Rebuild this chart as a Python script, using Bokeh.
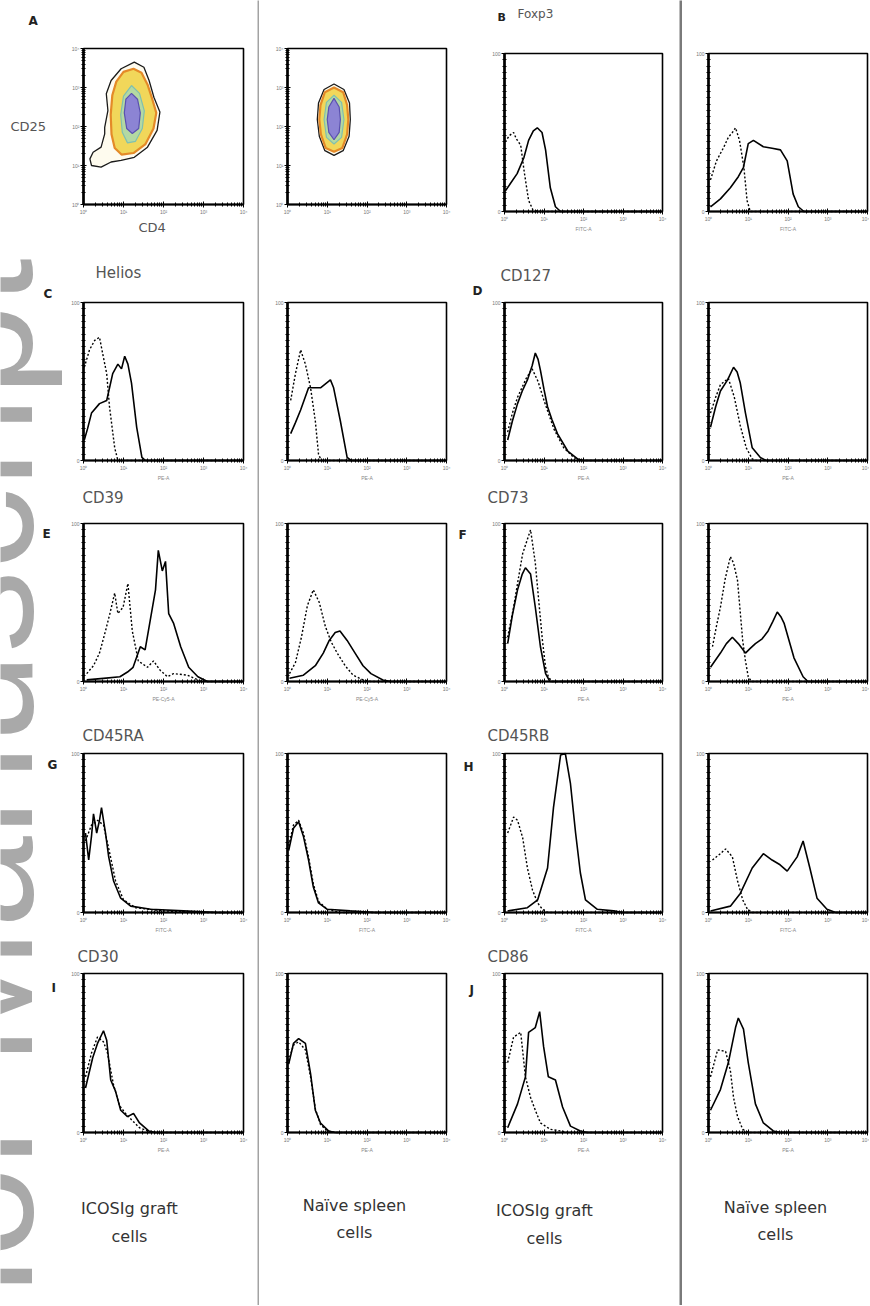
from bokeh.plotting import figure
from bokeh.layouts import row, column
from bokeh.models import Label, FixedTicker, LogAxis, LinearAxis, BoxAnnotation
from bokeh.embed import file_html
from bokeh.resources import INLINE

# ======================= DATA =======================
# Histograms: x = log10 fluorescence (decade exponent, 0..4), y = % of max
decade_ticks = [1, 10, 100, 1000, 10000]
decade_labels = ["10⁰", "10¹", "10²", "10³", "10⁴"]
hist_y_ticks = [0, 100]
group_line1 = ["ICOSIg graft", "Naïve spleen", "ICOSIg graft", "Naïve spleen"]
group_line2 = ["cells", "cells", "cells", "cells"]
marker_names = ["Foxp3", "Helios", "CD127", "CD39", "CD73", "CD45RA", "CD45RB", "CD30", "CD86"]
channel_names = ["FITC-A", "PE-A", "PE-A", "PE-Cy5-A", "PE-A", "FITC-A", "FITC-A", "PE-A", "PE-A"]

foxp3_graft = [(0.02, 13), (0.32, 24), (0.49, 34), (0.61, 45), (0.73, 51), (0.83, 53), (0.95, 50), (1.04, 39), (1.16, 15), (1.29, 3), (1.42, 0), (4.0, 0)]
foxp3_graft_iso = [(0.02, 44), (0.12, 48), (0.23, 50), (0.30, 46), (0.41, 42), (0.50, 25), (0.61, 7), (0.72, 1), (0.85, 0), (4.0, 0)]
foxp3_naive = [(0.05, 3), (0.30, 8), (0.55, 15), (0.75, 22), (0.88, 28), (1.00, 43), (1.13, 45), (1.38, 41), (1.60, 40), (1.81, 39), (1.98, 32), (2.13, 11), (2.26, 3), (2.40, 0), (4.0, 0)]
foxp3_naive_iso = [(0.05, 20), (0.20, 32), (0.39, 41), (0.50, 47), (0.60, 50), (0.68, 53), (0.78, 45), (0.89, 28), (0.97, 7), (1.05, 0), (4.0, 0)]

helios_graft = [(0.02, 13), (0.10, 20), (0.20, 30), (0.40, 36), (0.58, 38), (0.73, 55), (0.86, 61), (0.95, 58), (1.03, 66), (1.11, 61), (1.20, 49), (1.33, 21), (1.46, 2), (1.55, 0), (4.0, 0)]
helios_graft_iso = [(0.02, 59), (0.15, 70), (0.28, 76), (0.40, 78), (0.50, 65), (0.58, 55), (0.65, 34), (0.72, 20), (0.78, 8), (0.86, 0), (4.0, 0)]
helios_naive = [(0.08, 17), (0.20, 24), (0.33, 32), (0.53, 46), (0.83, 46), (1.08, 51), (1.16, 46), (1.33, 25), (1.50, 2), (1.60, 0), (4.0, 0)]
helios_naive_iso = [(0.08, 38), (0.20, 55), (0.33, 70), (0.45, 61), (0.58, 46), (0.70, 25), (0.78, 4), (0.85, 0), (4.0, 0)]

cd127_graft = [(0.08, 13), (0.20, 25), (0.33, 36), (0.45, 44), (0.58, 51), (0.70, 60), (0.78, 68), (0.85, 64), (0.91, 57), (1.00, 45), (1.09, 34), (1.20, 26), (1.34, 17), (1.60, 6), (1.85, 1), (2.00, 0), (4.0, 0)]
cd127_graft_iso = [(0.08, 18), (0.20, 30), (0.33, 40), (0.55, 52), (0.70, 58), (0.85, 50), (1.00, 38), (1.25, 20), (1.50, 8), (1.75, 2), (1.95, 0), (4.0, 0)]
cd127_naive = [(0.05, 21), (0.18, 34), (0.30, 44), (0.48, 51), (0.63, 59), (0.72, 56), (0.80, 49), (0.93, 30), (1.10, 8), (1.30, 2), (1.45, 0), (4.0, 0)]
cd127_naive_iso = [(0.05, 30), (0.18, 40), (0.30, 48), (0.50, 52), (0.65, 40), (0.80, 22), (0.95, 8), (1.10, 1), (1.20, 0), (4.0, 0)]

cd39_graft = [(0.08, 1), (0.50, 2), (0.91, 3), (1.10, 6), (1.24, 9), (1.42, 22), (1.54, 20), (1.67, 39), (1.80, 58), (1.87, 83), (1.97, 70), (2.05, 76), (2.13, 43), (2.25, 37), (2.43, 22), (2.63, 9), (2.86, 3), (3.10, 0), (4.0, 0)]
cd39_graft_iso = [(0.08, 5), (0.25, 10), (0.40, 18), (0.55, 32), (0.66, 43), (0.78, 56), (0.86, 43), (0.99, 47), (1.11, 62), (1.22, 32), (1.37, 13), (1.60, 9), (1.75, 13), (1.92, 7), (2.10, 3), (2.25, 5), (2.60, 4), (2.86, 1), (3.00, 0), (4.0, 0)]
cd39_naive = [(0.05, 2), (0.40, 4), (0.70, 10), (0.90, 18), (1.05, 26), (1.20, 31), (1.32, 32), (1.50, 26), (1.70, 18), (1.90, 10), (2.10, 5), (2.40, 1), (2.60, 0), (4.0, 0)]
cd39_naive_iso = [(0.05, 5), (0.20, 12), (0.35, 28), (0.50, 48), (0.65, 58), (0.80, 50), (0.95, 35), (1.10, 25), (1.25, 18), (1.45, 10), (1.65, 4), (1.90, 1), (2.10, 0), (4.0, 0)]

cd73_graft = [(0.08, 24), (0.20, 42), (0.33, 58), (0.45, 68), (0.53, 72), (0.66, 68), (0.78, 47), (0.91, 22), (1.04, 5), (1.15, 0), (4.0, 0)]
cd73_graft_iso = [(0.08, 28), (0.23, 47), (0.35, 65), (0.46, 81), (0.58, 90), (0.66, 96), (0.78, 75), (0.86, 53), (0.96, 26), (1.04, 9), (1.11, 3), (1.20, 0), (4.0, 0)]
cd73_naive = [(0.05, 9), (0.30, 18), (0.45, 24), (0.60, 28), (0.75, 24), (0.93, 18), (1.05, 21), (1.18, 24), (1.35, 27), (1.50, 32), (1.62, 38), (1.73, 44), (1.82, 41), (1.90, 37), (2.15, 15), (2.38, 3), (2.50, 0), (4.0, 0)]
cd73_naive_iso = [(0.10, 22), (0.20, 35), (0.30, 47), (0.42, 65), (0.55, 79), (0.63, 75), (0.73, 64), (0.86, 26), (0.93, 13), (1.00, 3), (1.08, 0), (4.0, 0)]

cd45ra_graft = [(0.05, 50), (0.13, 33), (0.20, 48), (0.25, 62), (0.33, 50), (0.40, 58), (0.45, 66), (0.55, 50), (0.63, 35), (0.75, 20), (0.93, 9), (1.18, 4), (1.68, 2), (2.50, 1), (3.35, 0), (4.0, 0)]
cd45ra_graft_iso = [(0.05, 45), (0.20, 55), (0.35, 58), (0.50, 55), (0.65, 38), (0.80, 20), (1.00, 8), (1.30, 3), (2.00, 1), (3.00, 0), (4.0, 0)]
cd45ra_naive = [(0.03, 39), (0.15, 53), (0.28, 57), (0.40, 48), (0.53, 33), (0.65, 16), (0.78, 6), (1.00, 2), (1.58, 1), (2.20, 0), (4.0, 0)]
cd45ra_naive_iso = [(0.03, 42), (0.15, 55), (0.28, 58), (0.40, 50), (0.53, 35), (0.65, 18), (0.78, 7), (1.00, 2), (1.30, 0), (4.0, 0)]

cd45rb_graft = [(0.08, 1), (0.58, 3), (0.84, 8), (1.09, 28), (1.24, 66), (1.42, 99), (1.54, 100), (1.67, 81), (1.80, 50), (1.92, 25), (2.05, 8), (2.35, 2), (2.76, 1), (3.00, 0), (4.0, 0)]
cd45rb_graft_iso = [(0.08, 50), (0.23, 60), (0.33, 58), (0.46, 47), (0.58, 28), (0.71, 14), (0.84, 6), (0.96, 2), (1.10, 0), (4.0, 0)]
cd45rb_naive = [(0.05, 1), (0.55, 4), (0.80, 12), (1.10, 28), (1.38, 37), (1.60, 33), (1.80, 30), (1.98, 26), (2.23, 35), (2.38, 45), (2.55, 28), (2.73, 9), (2.98, 2), (3.20, 0), (4.0, 0)]
cd45rb_naive_iso = [(0.10, 33), (0.30, 37), (0.43, 40), (0.60, 35), (0.73, 20), (0.86, 8), (0.98, 2), (1.10, 0), (4.0, 0)]

cd30_graft = [(0.05, 28), (0.23, 47), (0.35, 56), (0.50, 64), (0.58, 58), (0.68, 33), (0.80, 26), (0.93, 14), (1.10, 10), (1.25, 12), (1.40, 6), (1.63, 1), (1.80, 0), (4.0, 0)]
cd30_graft_iso = [(0.05, 35), (0.20, 50), (0.35, 60), (0.50, 57), (0.60, 50), (0.75, 30), (0.90, 17), (1.05, 12), (1.20, 8), (1.40, 3), (1.60, 1), (1.80, 0), (4.0, 0)]
cd30_naive = [(0.03, 43), (0.15, 56), (0.28, 59), (0.45, 56), (0.58, 37), (0.70, 14), (0.83, 6), (1.03, 1), (1.20, 0), (4.0, 0)]
cd30_naive_iso = [(0.03, 45), (0.15, 55), (0.28, 57), (0.45, 52), (0.58, 35), (0.70, 15), (0.83, 5), (1.00, 1), (1.20, 0), (4.0, 0)]

cd86_graft = [(0.08, 3), (0.33, 18), (0.53, 35), (0.61, 63), (0.78, 66), (0.89, 76), (0.99, 54), (1.11, 35), (1.29, 33), (1.47, 16), (1.67, 4), (1.92, 1), (2.10, 0), (4.0, 0)]
cd86_graft_iso = [(0.08, 44), (0.23, 60), (0.41, 63), (0.53, 35), (0.66, 22), (0.78, 14), (0.91, 6), (1.16, 2), (1.42, 1), (1.60, 0), (4.0, 0)]
cd86_naive = [(0.05, 14), (0.30, 27), (0.50, 44), (0.68, 66), (0.75, 72), (0.88, 65), (1.00, 44), (1.18, 18), (1.38, 6), (1.63, 1), (1.80, 0), (4.0, 0)]
cd86_naive_iso = [(0.05, 35), (0.23, 52), (0.43, 51), (0.55, 39), (0.63, 22), (0.73, 10), (0.86, 2), (1.00, 0), (4.0, 0)]

# Panel A contour levels (x = CD4 decade, y = CD25 decade)
a_graft_outer = [(1.27, 3.65), (1.51, 3.52), (1.64, 3.18), (1.76, 2.75), (1.91, 2.37), (1.84, 1.90), (1.60, 1.47), (1.27, 1.21), (0.94, 1.13), (0.69, 1.09), (0.44, 0.96), (0.20, 1.00), (0.16, 1.17), (0.24, 1.34), (0.44, 1.47), (0.53, 1.81), (0.53, 1.98), (0.61, 2.41), (0.57, 2.84), (0.69, 3.18), (0.94, 3.48)]
a_graft_mid = [(1.25, 3.48), (1.45, 3.38), (1.60, 3.08), (1.72, 2.70), (1.82, 2.35), (1.75, 1.95), (1.55, 1.55), (1.25, 1.32), (0.95, 1.28), (0.78, 1.45), (0.70, 1.80), (0.68, 2.30), (0.72, 2.80), (0.82, 3.15), (1.00, 3.40)]
a_graft_inner = [(1.20, 3.05), (1.40, 2.85), (1.52, 2.40), (1.47, 1.95), (1.30, 1.62), (1.10, 1.58), (0.97, 1.85), (0.93, 2.30), (1.00, 2.78)]
a_graft_core = [(1.20, 2.85), (1.35, 2.70), (1.42, 2.35), (1.38, 1.95), (1.22, 1.82), (1.08, 1.95), (1.02, 2.35), (1.06, 2.70)]
a_naive_outer = [(1.17, 3.09), (1.42, 2.95), (1.56, 2.60), (1.58, 2.18), (1.55, 1.75), (1.40, 1.38), (1.17, 1.26), (0.94, 1.38), (0.80, 1.75), (0.75, 2.18), (0.78, 2.60), (0.92, 2.95)]
a_naive_mid = [(1.17, 3.00), (1.40, 2.88), (1.50, 2.55), (1.53, 2.18), (1.50, 1.80), (1.38, 1.45), (1.17, 1.35), (0.96, 1.45), (0.84, 1.80), (0.80, 2.18), (0.83, 2.55), (0.94, 2.88)]
a_naive_inner = [(1.17, 2.80), (1.36, 2.62), (1.42, 2.18), (1.36, 1.72), (1.17, 1.55), (0.98, 1.72), (0.92, 2.18), (0.98, 2.62)]
a_naive_core = [(1.17, 2.72), (1.30, 2.50), (1.33, 2.18), (1.30, 1.85), (1.17, 1.66), (1.04, 1.85), (1.00, 2.18), (1.04, 2.50)]

# ======================= LAYOUT =======================
# page pixel coordinates (page origin at top-left)
STRIP_W = 62
TOTAL_H = 1305
COLS = [dict(left=62, bl=21, fw=160, br=14),
        dict(left=259, bl=28, fw=159, br=9),
        dict(left=455, bl=49, fw=158, br=17),
        dict(left=682, bl=26, fw=159, br=2)]
ROWS = [dict(top=0, bt=48, fh=156, bb=46),
        dict(top=250, bt=52, fh=158, bb=22),
        dict(top=482, bt=41, fh=158, bb=34),
        dict(top=715, bt=38, fh=159, bb=28),
        dict(top=940, bt=33, fh=159, bb=28)]
ROW1_RIGHT = dict(top=0, bt=53, fh=158, bb=39)
BOTTOM_TOP = 1160
BOTTOM_H = TOTAL_H - BOTTOM_TOP

MINOR_LOG = [m * 10 ** d for d in range(4) for m in range(2, 10)]


def put(p, fleft, fbottom, X, Y, text, size, bold=False, align="left", baseline="top",
        color="#444444", font="DejaVu Sans", angle=0, level="annotation"):
    p.add_layout(Label(x=X - fleft, y=fbottom - Y, x_units="screen", y_units="screen", text=text,
                       text_font=font, text_font_size=f"{size}px",
                       text_font_style=("bold" if bold else "normal"),
                       text_align=align, text_baseline=baseline, text_color=color,
                       angle=angle, angle_units="deg", level=level))


def style_axis(ax, lw):
    ax.axis_line_color = "black"
    ax.axis_line_width = lw
    ax.major_tick_line_color = "black"
    ax.minor_tick_line_color = "black"
    ax.major_tick_in = 3
    ax.major_tick_out = 3
    ax.minor_tick_in = 2
    ax.minor_tick_out = 2
    ax.major_label_text_font_size = "5px"
    ax.major_label_text_color = "#777777"
    ax.major_label_standoff = 1
    ax.axis_label_text_font_size = "5px"
    ax.axis_label_text_color = "#888888"
    ax.axis_label_text_font_style = "normal"
    ax.axis_label_standoff = 1


def blank(width, height, color="white"):
    p = figure(width=width, height=height, x_range=(0, 1), y_range=(0, 1),
               x_axis_location=None, y_axis_location=None, min_border=0,
               output_backend="svg", toolbar_location=None,
               background_fill_color=color, border_fill_color=color)
    p.grid.visible = False
    p.outline_line_color = None
    return p


def panel(cs, rs, ylog=False, xlabel=None):
    """Figure whose canvas is entirely frame; the axes sit at fixed data locations."""
    w = cs["bl"] + cs["fw"] + cs["br"]
    h = rs["bt"] + rs["fh"] + rs["bb"]
    x_lo = 10 ** (-4 * cs["bl"] / cs["fw"])
    x_hi = 10 ** (4 + 4 * cs["br"] / cs["fw"])
    if ylog:
        y_lo = 10 ** (-4 * rs["bb"] / rs["fh"])
        y_hi = 10 ** (4 + 4 * rs["bt"] / rs["fh"])
        y_min, y_max = 1, 1e4
    else:
        y_lo = -100 * rs["bb"] / rs["fh"]
        y_hi = 100 + 100 * rs["bt"] / rs["fh"]
        y_min, y_max = 0, 100
    p = figure(width=w, height=h, x_axis_type="log", y_axis_type=("log" if ylog else "linear"),
               x_range=(x_lo, x_hi), y_range=(y_lo, y_hi),
               x_axis_location=None, y_axis_location=None, min_border=0,
               output_backend="svg", toolbar_location=None,
               background_fill_color="white", border_fill_color="white")
    p.grid.visible = False
    p.outline_line_color = None

    xa = LogAxis(fixed_location=y_min, bounds=(1, 1e4),
                 ticker=FixedTicker(ticks=decade_ticks, minor_ticks=MINOR_LOG))
    xa.major_label_overrides = {t: l for t, l in zip(decade_ticks, decade_labels)}
    style_axis(xa, 1.8)
    if xlabel:
        xa.axis_label = xlabel
    p.add_layout(xa, "below")

    if ylog:
        ya = LogAxis(fixed_location=1, bounds=(1, 1e4),
                     ticker=FixedTicker(ticks=decade_ticks, minor_ticks=MINOR_LOG))
        ya.major_label_overrides = {t: l for t, l in zip(decade_ticks, decade_labels)}
    else:
        ya = LinearAxis(fixed_location=1, bounds=(0, 100),
                        ticker=FixedTicker(ticks=hist_y_ticks, minor_ticks=list(range(0, 101, 4))))
    style_axis(ya, 2.6)
    p.add_layout(ya, "left")

    p.add_layout(BoxAnnotation(left=1, right=1e4, bottom=y_min, top=y_max,
                               fill_alpha=0, line_color="black", line_alpha=1.0,
                               line_width=1.6))
    return p, cs["left"], rs["top"] + h


def draw_hist(p, stained, iso):
    p.line([10 ** v for v, _ in iso], [c for _, c in iso], line_color="black",
           line_width=1.4, line_dash="2 2")
    p.line([10 ** v for v, _ in stained], [c for _, c in stained], line_color="black",
           line_width=1.6)


def draw_contours(p, outer, mid, inner, core):
    def xy(pts):
        return [10 ** a for a, _ in pts], [10 ** b for _, b in pts]
    x, y = xy(outer)
    p.patch(x, y, fill_color="#fdf8e2", fill_alpha=0.6, line_color="#1a1a1a", line_width=1.3)
    x, y = xy(mid)
    p.patch(x, y, fill_color="#f1d75a", line_color="#e48a28", line_width=2.2)
    x, y = xy(inner)
    p.patch(x, y, fill_color="#b4d9a2", line_color="#7fc0b0", line_width=1.2)
    x, y = xy(core)
    p.patch(x, y, fill_color="#8c84d4", line_color="#5a50b0", line_width=1.2)


# ---- left strip: watermark, panel letters, CD25 ----
strip = blank(STRIP_W, TOTAL_H)
put(strip, 0, TOTAL_H, -26, 258, "Author Manuscript", 165, align="right", baseline="alphabetic",
    color="#a9a9a9", font="Liberation Sans", angle=90, level="underlay")
for letter, lx, ly in [("A", 28, 13), ("C", 43, 286), ("E", 42, 526), ("G", 47, 757), ("I", 51, 980)]:
    put(strip, 0, TOTAL_H, lx, ly, letter, 12, bold=True, color="#222222")
put(strip, 0, TOTAL_H, 10, 118, "CD25", 13, color="#555555")

hist_rows = [
    (helios_graft, helios_graft_iso, helios_naive, helios_naive_iso,
     cd127_graft, cd127_graft_iso, cd127_naive, cd127_naive_iso),
    (cd39_graft, cd39_graft_iso, cd39_naive, cd39_naive_iso,
     cd73_graft, cd73_graft_iso, cd73_naive, cd73_naive_iso),
    (cd45ra_graft, cd45ra_graft_iso, cd45ra_naive, cd45ra_naive_iso,
     cd45rb_graft, cd45rb_graft_iso, cd45rb_naive, cd45rb_naive_iso),
    (cd30_graft, cd30_graft_iso, cd30_naive, cd30_naive_iso,
     cd86_graft, cd86_graft_iso, cd86_naive, cd86_naive_iso),
]
# (left marker, x, y), (right marker, x, y), (right letter, x, y)
row_texts = [
    ((marker_names[1], 95, 263), (marker_names[2], 500, 266), ("D", 472, 283)),
    ((marker_names[3], 82, 488), (marker_names[4], 487, 488), ("F", 458, 527)),
    ((marker_names[5], 82, 726), (marker_names[6], 487, 726), ("H", 463, 759)),
    ((marker_names[7], 77, 947), (marker_names[8], 487, 947), ("J", 469, 982)),
]
row_channels = [(channel_names[1], channel_names[2]), (channel_names[3], channel_names[4]),
                (channel_names[5], channel_names[6]), (channel_names[7], channel_names[8])]

cols = [[], [], [], []]

# ---- row 1 ----
p, fl, fb = panel(COLS[0], ROWS[0], ylog=True)
draw_contours(p, a_graft_outer, a_graft_mid, a_graft_inner, a_graft_core)
put(p, fl, fb, 138, 219, "CD4", 13, color="#555555")
cols[0].append(p)

p, fl, fb = panel(COLS[1], ROWS[0], ylog=True)
draw_contours(p, a_naive_outer, a_naive_mid, a_naive_inner, a_naive_core)
cols[1].append(p)

p, fl, fb = panel(COLS[2], ROW1_RIGHT, xlabel=channel_names[0])
draw_hist(p, foxp3_graft, foxp3_graft_iso)
put(p, fl, fb, 497, 10, "B", 11, bold=True, color="#222222")
put(p, fl, fb, 517, 6, marker_names[0], 12, color="#555555")
cols[2].append(p)

p, fl, fb = panel(COLS[3], ROW1_RIGHT, xlabel=channel_names[0])
draw_hist(p, foxp3_naive, foxp3_naive_iso)
cols[3].append(p)

# ---- rows 2-5 ----
for ri, (data, texts, chans) in enumerate(zip(hist_rows, row_texts, row_channels)):
    rs = ROWS[ri + 1]
    g1, g1i, n1, n1i, g2, g2i, n2, n2i = data
    (m1, mx1, my1), (m2, mx2, my2), (l2, lx2, ly2) = texts

    p, fl, fb = panel(COLS[0], rs, xlabel=chans[0])
    draw_hist(p, g1, g1i)
    put(p, fl, fb, mx1, my1, m1, 15, color="#555555")
    cols[0].append(p)

    p, fl, fb = panel(COLS[1], rs, xlabel=chans[0])
    draw_hist(p, n1, n1i)
    cols[1].append(p)

    p, fl, fb = panel(COLS[2], rs, xlabel=chans[1])
    draw_hist(p, g2, g2i)
    put(p, fl, fb, mx2, my2, m2, 15, color="#555555")
    put(p, fl, fb, lx2, ly2, l2, 12, bold=True, color="#222222")
    cols[2].append(p)

    p, fl, fb = panel(COLS[3], rs, xlabel=chans[1])
    draw_hist(p, n2, n2i)
    cols[3].append(p)

# ---- bottom group labels ----
bottom_pos = [(129, 1208, 1236), (354, 1205, 1232), (544, 1210, 1238), (775, 1207, 1234)]
for ci, cs in enumerate(COLS):
    w = cs["bl"] + cs["fw"] + cs["br"]
    p = blank(w, BOTTOM_H)
    cx, y1, y2 = bottom_pos[ci]
    put(p, cs["left"], TOTAL_H, cx, y1, group_line1[ci], 16, align="center", baseline="middle", color="#333333")
    put(p, cs["left"], TOTAL_H, cx, y2, group_line2[ci], 16, align="center", baseline="middle", color="#333333")
    cols[ci].append(p)

layout = row(strip, column(*cols[0]), blank(2, TOTAL_H, "#a3a3a3"), column(*cols[1]),
             column(*cols[2]), blank(3, TOTAL_H, "#7a7a7a"), column(*cols[3]))

open("out.html", "w").write(file_html(layout, INLINE))
